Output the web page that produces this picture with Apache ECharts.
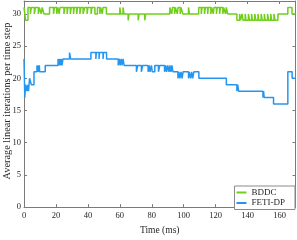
<!DOCTYPE html>
<html><head><meta charset="utf-8">
<script src="https://cdn.jsdelivr.net/npm/echarts@6/dist/echarts.min.js"></script>
<style>html,body{margin:0;padding:0;background:#fff}#c{width:297px;height:240px}</style>
</head><body><div id="c"></div>
<script>
var seriesNames = ['BDDC', 'FETI-DP'];
var xTicks = [0, 20, 40, 60, 80, 100, 120, 140, 160];
var yTicks = [0, 5, 10, 15, 20, 25, 30];
var bddcTime = [0,1,2.5,4,4.6,6.5,7.1,9,9.6,10.8,11.4,12.5,16,18.5,19.1,20.5,21.2,22,22.6,25,25.6,27,27.5,29,29.6,31,31.5,33,33.5,35,35.6,37,38,39.5,40,42,42.5,44.4,46,47.5,48,49,49.5,51.6,60,60.6,62,62.6,65.2,65.8,71.5,72.1,75.6,76.2,91.3,92.5,93,94.3,94.8,96,96.5,97.8,98.3,99.4,103,103.6,109.4,111,111.5,113,113.6,115,115.4,117,117.5,118.5,119,120.5,121,122.5,123,124.5,125,126.2,126.7,127.5,133.3,135,135.6,136.5,137.2,138.5,139,140.5,141.2,142.5,143,144.5,145.2,146.5,147,148.5,149.2,150.5,151,152.5,153.2,154.5,155,156.5,157.2,159,165.2,167.8,170];
var bddcValue = [31,29,31,30,31,30,31,30,31,30,31,30,31,30,31,30,31,30,31,30,31,30,31,30,31,30,31,30,31,30,31,30,31,30,31,30,31,30,31,30,31,30,31,30,31,30,31,30,29,30,29,30,29,30,31,30,31,30,31,30,31,30,31,30,31,30,31,30,31,30,31,30,31,30,31,30,31,30,31,30,31,30,31,30,31,30,29,30,29,30,29,30,29,30,29,30,29,30,29,30,29,30,29,30,29,30,29,30,29,30,29,30,31,30,30];
var fetiTime = [0,0.5,1,1.8,2.3,2.8,3.5,4.6,6.25,8.1,8.6,9,9.4,9.6,9.8,13.3,21.3,21.8,22.4,22.8,23.4,23.8,24.4,28.5,29.2,41.9,45,45.3,47,47.3,49.5,49.8,51.7,59,59.6,60.2,60.8,61.4,62,62.7,70.4,71.2,73.5,74.3,77.7,78.4,78.9,79.8,80.3,81.9,84.2,85,88,88.7,89.3,90,90.8,91.4,92,92.6,93.3,96.4,97,97.6,98.3,99,99.6,103,103.5,104.3,105,105.6,106.4,109.5,126.7,133.3,133.8,134.4,149.6,150,150.4,156.25,165.2,167.9,170];
var fetiValue = [23,17,19,18,19,18,20,19,21,22,21,22,21,22,21,22,23,22,23,22,23,22,23,24,23,24,23,24,23,24,23,24,23,22,23,22,23,22,23,22,21,22,21,22,21,22,21,22,21,22,21,22,21,22,21,22,21,22,21,22,21,20,21,20,21,20,21,20,21,20,21,20,21,20,19,18,19,18,17,18,17,16,21,20,20];

function pairs(t, v){ var o=[]; for(var i=0;i<t.length;i++) o.push([t[i], v[i]]); return o; }
var font = '"Liberation Serif", "DejaVu Serif", serif';
var axisCol = '#7a7a7a';
var txt = '#262626';
var chart = echarts.init(document.getElementById('c'), null, {renderer:'canvas'});
function xAx(pos, lab){
  return {type:'value', position:pos, min:0, max:170, interval:20,
    axisLine:{show:true, onZero:false, lineStyle:{color:axisCol, width:1}},
    axisTick:{show:true, inside:true, length:3, lineStyle:{color:axisCol}},
    splitLine:{show:false},
    axisLabel:{show:lab, showMaxLabel:false, margin:4, fontFamily:font, fontSize:8.5, color:txt},
    name: lab ? 'Time (ms)' : '', nameLocation:'middle', nameGap:13,
    nameTextStyle:{fontFamily:font, fontSize:9.5, color:txt}};
}
function yAx(pos, lab){
  return {type:'value', position:pos, min:0, max:32, interval:5,
    axisLine:{show:true, onZero:false, lineStyle:{color:axisCol, width:1}},
    axisTick:{show:true, inside:true, length:3, lineStyle:{color:axisCol}},
    splitLine:{show:false},
    axisLabel:{show:lab, showMaxLabel:false, margin:3, fontFamily:font, fontSize:8.5, color:txt}};
}
chart.setOption({
  animation:false,
  backgroundColor:'#fff',
  grid:{left:24, right:1.5, top:1, bottom:25.3},
  xAxis:[xAx('bottom', true), xAx('top', false)],
  yAxis:[yAx('left', true), yAx('right', false)],
  legend:{orient:'vertical', right:2, top:186, padding:[2,10,2,2], itemGap:1.5, itemWidth:10, itemHeight:2,
    backgroundColor:'#fff', borderColor:'#8a8a8a', borderWidth:1,
    textStyle:{fontFamily:font, fontSize:9, color:txt, lineHeight:8.5},
    data:[{name:seriesNames[0], icon:'rect'},{name:seriesNames[1], icon:'rect'}]},
  graphic:[{type:'text', x:7, y:101, rotation:Math.PI/2,
    style:{text:'Average linear iterations per time step', fontFamily:font, fontSize:10.3, fill:txt, textAlign:'center', textVerticalAlign:'middle'}}],
  series:[
    {name:seriesNames[0], type:'line', step:'end', showSymbol:false, data:pairs(bddcTime,bddcValue),
      lineStyle:{color:'#6fcf1a', width:1.5}, itemStyle:{color:'#6fcf1a'}},
    {name:seriesNames[1], type:'line', step:'end', showSymbol:false, data:pairs(fetiTime,fetiValue),
      lineStyle:{color:'#2596f0', width:1.5}, itemStyle:{color:'#2596f0'}}
  ]
});
</script></body></html>
